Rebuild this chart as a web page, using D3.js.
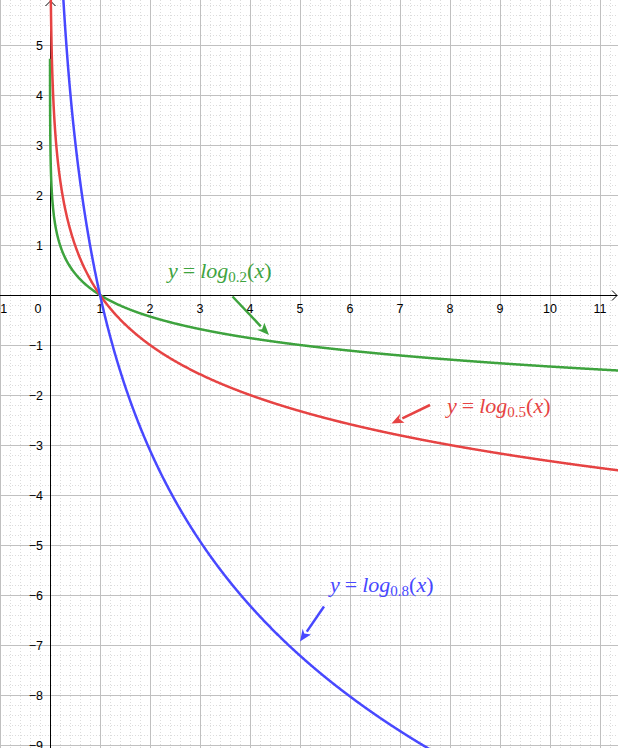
<!DOCTYPE html>
<html><head><meta charset="utf-8">
<script src="https://cdn.jsdelivr.net/npm/d3@7"></script>
<style>html,body{margin:0;padding:0;background:#fff;overflow:hidden}</style>
</head><body>
<svg id="chart" width="618" height="748"></svg>
<script>
// ---- data ----
const bases = [0.2, 0.5, 0.8];
const seriesNames = ["log0.2", "log0.5", "log0.8"];
const seriesColors = ["#3ea33e", "#e64343", "#4848ff"];
const labelSubs = ["0.2", "0.5", "0.8"];
// label anchor (data coords) and arrow (data coords: from -> to)
const labelPos = [[2.36, 0.34], [7.94, -2.36], [5.6, -5.94]];
const arrowFrom = [[3.65, -0.03], [7.6, -2.2], [5.48, -6.23]];
const arrowTo = [[4.38, -0.8], [6.83, -2.57], [5.0, -6.93]];
const xTicks = d3.range(-1, 12);
const yTicks = d3.range(-9, 6);

const W = 618, H = 748;
const svg = d3.select("#chart");
const x = d3.scaleLinear().domain([-1, 11.36]).range([0, W]);
const y = d3.scaleLinear().domain([5.9, -9.06]).range([0, H]);

// minor grid
const minorX = d3.range(-1, 11.4, 0.2).filter(v => Math.abs(v - Math.round(v)) > 1e-6);
const minorY = d3.range(-9.2, 6, 0.2).filter(v => Math.abs(v - Math.round(v)) > 1e-6);
const g = svg.append("g");
g.selectAll(".mx").data(minorX).join("line")
  .attr("x1", d => Math.round(x(d)) + 0.5).attr("x2", d => Math.round(x(d)) + 0.5)
  .attr("y1", 0).attr("y2", H).attr("stroke", "#dcdcdc").attr("stroke-dasharray", "1,2");
g.selectAll(".my").data(minorY).join("line")
  .attr("y1", d => Math.round(y(d)) + 0.5).attr("y2", d => Math.round(y(d)) + 0.5)
  .attr("x1", 0).attr("x2", W).attr("stroke", "#dcdcdc").attr("stroke-dasharray", "1,2");
// major grid
g.selectAll(".gx").data(xTicks).join("line")
  .attr("x1", d => Math.round(x(d)) + 0.5).attr("x2", d => Math.round(x(d)) + 0.5)
  .attr("y1", 0).attr("y2", H).attr("stroke", "#c0c0c0");
g.selectAll(".gy").data(yTicks).join("line")
  .attr("y1", d => Math.round(y(d)) + 0.5).attr("y2", d => Math.round(y(d)) + 0.5)
  .attr("x1", 0).attr("x2", W).attr("stroke", "#c0c0c0");

// axes
const ax = svg.append("g");
const x0 = Math.round(x(0)) + 0.5, y0 = Math.round(y(0)) + 0.5;
ax.append("line").attr("x1", 0).attr("x2", W - 1).attr("y1", y0).attr("y2", y0).attr("stroke", "#000");
ax.append("path").attr("d", `M${W-6},${y0-5}L${W-1},${y0}L${W-6},${y0+5}`).attr("fill", "none").attr("stroke", "#000");
ax.append("line").attr("x1", x0).attr("x2", x0).attr("y1", 1).attr("y2", H).attr("stroke", "#000");
ax.append("path").attr("d", `M${x0-5},6L${x0},1L${x0+5},6`).attr("fill", "none").attr("stroke", "#000");

// tick labels
const lab = svg.append("g").attr("font-family", "'Liberation Sans', Arial, sans-serif").attr("font-size", 12.5).attr("fill", "#000");
lab.selectAll(".xl").data(xTicks).join("text")
  .attr("x", d => d === 0 ? x(0) - 12 : x(d))
  .attr("y", y(0) + 18)
  .attr("text-anchor", "middle")
  .text(d => d < 0 ? "\u2212" + (-d) : d);
lab.selectAll(".yl").data(yTicks.filter(d => d !== 0)).join("text")
  .attr("x", x(0) - 7)
  .attr("y", d => y(d) + 4.5)
  .attr("text-anchor", "end")
  .text(d => d < 0 ? "\u2212" + (-d) : d);

// curves
const defs = svg.append("defs");
defs.append("clipPath").attr("id", "clip").append("rect").attr("width", W).attr("height", H);
const xs = d3.range(0.0005, 0.05, 0.0005).concat(d3.range(0.05, 11.5, 0.01));
const line = d3.line().x(d => x(d[0])).y(d => y(d[1]));
const cg = svg.append("g").attr("clip-path", "url(#clip)");
bases.forEach((b, i) => {
  const pts = xs.map(v => [v, Math.log(v) / Math.log(b)]).filter(p => p[1] < 7 && p[1] > -10);
  cg.append("path").attr("d", line(pts)).attr("fill", "none")
    .attr("stroke", seriesColors[i]).attr("stroke-width", 2.5).attr("stroke-linejoin", "round");
});

// arrows
bases.forEach((b, i) => {
  const [fx, fy] = [x(arrowFrom[i][0]), y(arrowFrom[i][1])];
  const [tx, ty] = [x(arrowTo[i][0]), y(arrowTo[i][1])];
  const ang = Math.atan2(ty - fy, tx - fx);
  const hl = 12, hw = 5;
  const bx = tx - hl * Math.cos(ang), by = ty - hl * Math.sin(ang);
  svg.append("line").attr("x1", fx).attr("y1", fy).attr("x2", bx).attr("y2", by)
    .attr("stroke", seriesColors[i]).attr("stroke-width", 2.5);
  const px = -Math.sin(ang) * hw, py = Math.cos(ang) * hw;
  svg.append("path").attr("d", `M${tx},${ty}L${bx+px},${by+py}L${bx+px*0.2+ (tx-bx)*0.25},${by+py*0.2+(ty-by)*0.25}L${bx-px},${by-py}Z`)
    .attr("fill", seriesColors[i]);
});

// labels
bases.forEach((b, i) => {
  const t = svg.append("text")
    .attr("x", x(labelPos[i][0])).attr("y", y(labelPos[i][1]))
    .attr("font-family", "'Liberation Serif', 'Times New Roman', serif")
    .attr("font-size", 22).attr("fill", seriesColors[i]);
  t.append("tspan").attr("font-style", "italic").text("y");
  t.append("tspan").attr("dx", 5).text("=");
  t.append("tspan").attr("font-style", "italic").attr("dx", 5).text("log");
  t.append("tspan").attr("font-size", 15).attr("dy", 4).text(labelSubs[i]);
  t.append("tspan").attr("dy", -4).text("(");
  t.append("tspan").attr("font-style", "italic").text("x");
  t.append("tspan").text(")");
});
</script>
</body></html>
